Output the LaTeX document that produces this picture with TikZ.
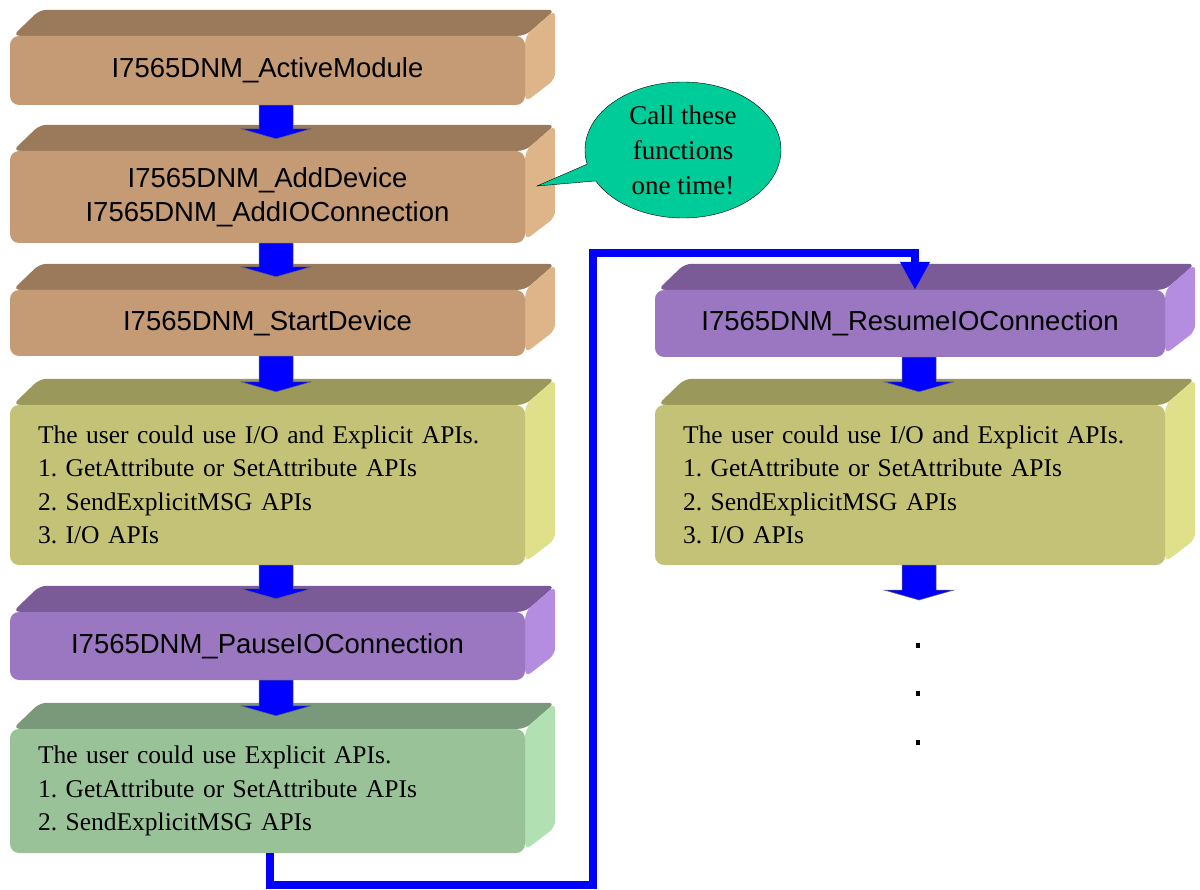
\documentclass[tikz,border=0pt]{standalone}
\usepackage{fontspec}
\setmainfont{Liberation Serif}
\setsansfont{Liberation Sans}
\usetikzlibrary{calc,arrows.meta,backgrounds,shapes.callouts}
\definecolor{tanF}{RGB}{196,155,116}
\definecolor{tanT}{RGB}{155,122,92}
\definecolor{tanS}{RGB}{222,181,136}
\definecolor{yelF}{RGB}{195,194,118}
\definecolor{yelT}{RGB}{154,152,90}
\definecolor{yelS}{RGB}{224,224,138}
\definecolor{purF}{RGB}{155,119,193}
\definecolor{purT}{RGB}{122,91,152}
\definecolor{purS}{RGB}{180,140,224}
\definecolor{grnF}{RGB}{154,194,152}
\definecolor{grnT}{RGB}{122,153,122}
\definecolor{grnS}{RGB}{177,224,178}
\definecolor{callF}{RGB}{0,204,153}
\definecolor{arrowblue}{RGB}{0,0,255}
\tikzset{
  box3d/.style={rectangle, rounded corners=9pt, inner sep=0pt},
  titlebox/.style={box3d, align=center, font=\sffamily\fontsize{27.5}{34}\selectfont},
  listbox/.style={box3d, align=left, inner xsep=28pt, font=\rmfamily\frenchspacing\fontsize{25.5}{33.5}\selectfont},
  bevelface/.style={rounded corners=7pt},
  blockarr/.style={fill=arrowblue, draw=black!60, line width=0.5pt, line join=miter},
  connector/.style={line width=8pt, draw=arrowblue, -{Triangle[width=28pt,length=28pt]}},
  dotmark/.style={rectangle, fill=black, inner sep=0pt, minimum width=4pt, minimum height=5pt}
}
\newcommand\bevel[3]{%
  \begin{scope}[on background layer]
    \fill[#2, bevelface] ($(#1.north west)+(3,0)$) -- ($(#1.north west)+(30,-26)$) -- ($(#1.north east)+(30,-26)$) -- (#1.north east) -- cycle;
    \fill[#3, bevelface] (#1.north east) -- ($(#1.north east)+(30,-26)$) -- ($(#1.south east)+(30,-26)$) -- ($(#1.south east)+(0,-3)$) -- cycle;
  \end{scope}}
\newcommand\blockarrow[2]{%
  \path[blockarr] let \p1=(#1), \p2=(#2) in
    (\x1-17pt,\y1) -- (\x1+17pt,\y1) -- (\x1+17pt,\y2+10pt) -- (\x1+35pt,\y2+10pt)
    -- (\x1,\y2) -- (\x1-35pt,\y2+10pt) -- (\x1-17pt,\y2+10pt) -- cycle;}
\begin{document}
\begin{tikzpicture}[x=1pt,y=-1pt]
\useasboundingbox (0,0) rectangle (1200,890);
\coordinate (axL) at (276,0);
\coordinate (axR) at (919,0);
% left column
\node[titlebox, fill=tanF, minimum width=515pt, minimum height=69pt] (b1) at (267.5,70.5) {I7565DNM\_ActiveModule};
\bevel{b1}{tanT}{tanS}
\node[titlebox, fill=tanF, minimum width=515pt, minimum height=92pt] (b2) at (267.5,197) {I7565DNM\_AddDevice\\I7565DNM\_AddIOConnection};
\bevel{b2}{tanT}{tanS}
\node[titlebox, fill=tanF, minimum width=515pt, minimum height=66pt] (b3) at (267.5,323) {I7565DNM\_StartDevice};
\bevel{b3}{tanT}{tanS}
\node[listbox, fill=yelF, text width=459pt, minimum height=160pt] (b4) at (267.5,485) {The user could use I/O and Explicit APIs.\\1. GetAttribute or SetAttribute APIs\\2. SendExplicitMSG APIs\\3. I/O APIs};
\bevel{b4}{yelT}{yelS}
\node[titlebox, fill=purF, minimum width=515pt, minimum height=68pt] (b5) at (267.5,646) {I7565DNM\_PauseIOConnection};
\bevel{b5}{purT}{purS}
\node[listbox, fill=grnF, text width=459pt, minimum height=124pt] (b6) at (267.5,791) {The user could use Explicit APIs.\\1. GetAttribute or SetAttribute APIs\\2. SendExplicitMSG APIs};
\bevel{b6}{grnT}{grnS}
% right column
\node[titlebox, fill=purF, minimum width=510pt, minimum height=67pt] (r1) at (910,323.5) {I7565DNM\_ResumeIOConnection};
\bevel{r1}{purT}{purS}
\node[listbox, fill=yelF, text width=454pt, minimum height=160pt] (r2) at (910,485) {The user could use I/O and Explicit APIs.\\1. GetAttribute or SetAttribute APIs\\2. SendExplicitMSG APIs\\3. I/O APIs};
\bevel{r2}{yelT}{yelS}
% callout
\node[ellipse callout, draw=black, fill=callF, minimum width=196pt, minimum height=136pt, inner sep=0pt,
      callout absolute pointer={(537,186)}, align=center, font=\rmfamily\fontsize{27}{35}\selectfont] (call) at (683,150) {Call these\\functions\\one time!};
% block arrows
\blockarrow{b1.south -| axL}{$(b2.north -| axL)+(0,-12)$}
\blockarrow{b2.south -| axL}{$(b3.north -| axL)+(0,-13)$}
\blockarrow{b3.south -| axL}{$(b4.north -| axL)+(0,-13)$}
\blockarrow{b4.south -| axL}{$(b5.north -| axL)+(0,-13)$}
\blockarrow{b5.south -| axL}{$(b6.north -| axL)+(0,-13)$}
\blockarrow{r1.south -| axR}{$(r2.north -| axR)+(0,-13)$}
\coordinate (endR) at (919,600);
\blockarrow{r2.south -| axR}{endR}
% connector
\coordinate (cA) at (270,885);
\coordinate (cB) at (593,885);
\coordinate (cC) at (593,253);
\coordinate (cD) at (915,253);
\draw[connector] (b6.south -| cA) -- (cA) -- (cB) -- (cC) -- (cD) -- (r1.north -| cD);
% dots
\node[dotmark] (d1) at (918,645) {};
\node[dotmark] (d2) at (918,693) {};
\node[dotmark] (d3) at (918,742) {};
\end{tikzpicture}
\end{document}
